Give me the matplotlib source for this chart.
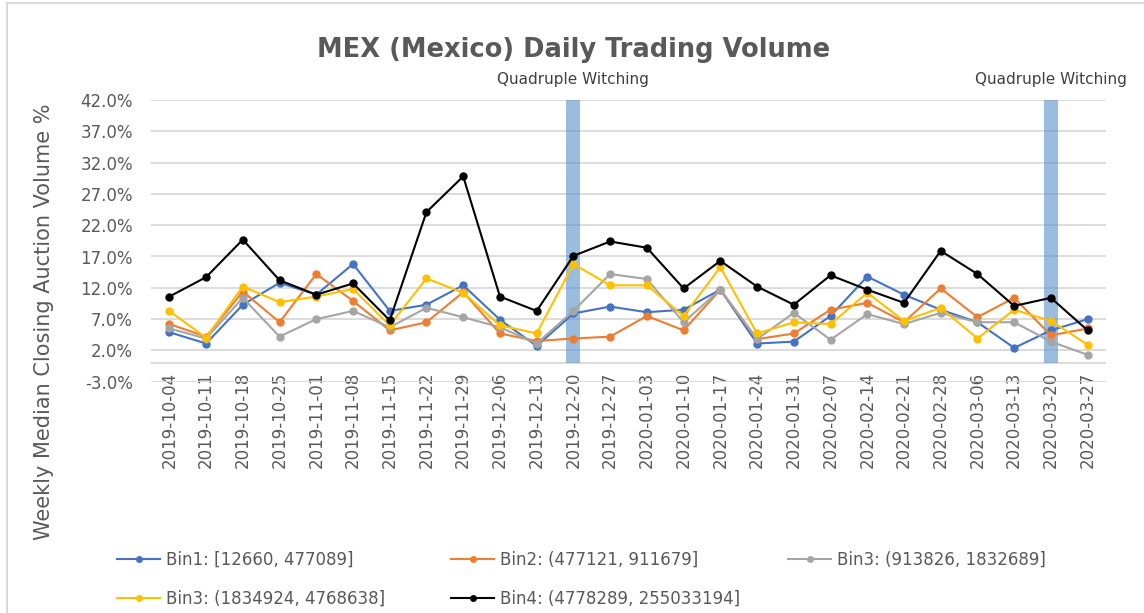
import matplotlib
matplotlib.use("Agg")
import matplotlib.pyplot as plt
from matplotlib.patches import Rectangle

# Dados (mediana semanal, % do volume no leilão de fechamento)
dates = ["2019-10-04", "2019-10-11", "2019-10-18", "2019-10-25", "2019-11-01", "2019-11-08",
         "2019-11-15", "2019-11-22", "2019-11-29", "2019-12-06", "2019-12-13", "2019-12-20",
         "2019-12-27", "2020-01-03", "2020-01-10", "2020-01-17", "2020-01-24", "2020-01-31",
         "2020-02-07", "2020-02-14", "2020-02-21", "2020-02-28", "2020-03-06", "2020-03-13",
         "2020-03-20", "2020-03-27"]

bin1 = [4.9, 3.1, 9.3, 12.8, 10.9, 15.8, 8.3, 9.3, 12.4, 6.9, 2.7, 7.9, 9.0, 8.1, 8.5,
        11.7, 3.1, 3.4, 7.5, 13.8, 10.9, 8.5, 6.5, 2.4, 5.2, 7.0]
bin2 = [6.2, 4.2, 11.4, 6.5, 14.2, 9.9, 5.2, 6.5, 11.3, 4.7, 3.5, 3.9, 4.2, 7.5, 5.2,
        11.7, 3.8, 4.7, 8.5, 9.6, 6.5, 11.9, 7.3, 10.4, 4.4, 5.5]
bin3 = [5.5, 3.9, 10.4, 4.2, 7.0, 8.3, 5.7, 8.8, 7.3, 5.7, 3.1, 8.3, 14.2, 13.4, 6.5,
        11.7, 3.8, 8.0, 3.7, 7.8, 6.2, 8.0, 6.5, 6.5, 3.4, 1.3]
bin3b = [8.3, 4.0, 12.2, 9.7, 10.6, 11.8, 6.0, 13.5, 11.2, 6.0, 4.7, 15.8, 12.4, 12.4, 7.5,
         15.3, 4.7, 6.5, 6.2, 11.2, 6.7, 8.8, 3.9, 8.5, 6.7, 2.9]
bin4 = [10.6, 13.7, 19.7, 13.2, 10.9, 12.7, 6.8, 24.1, 29.8, 10.6, 8.3, 17.1, 19.4, 18.4, 11.9,
        16.3, 12.2, 9.3, 14.0, 11.7, 9.6, 17.9, 14.2, 9.1, 10.4, 5.2]

labels = ["Bin1: [12660, 477089]", "Bin2: (477121, 911679]", "Bin3: (913826, 1832689]",
          "Bin3: (1834924, 4768638]", "Bin4: (4778289, 255033194]"]
colors = ["#4472C4", "#ED7D31", "#A5A5A5", "#FFC000", "#000000"]
series = [bin1, bin2, bin3, bin3b, bin4]

qw_dates = ["2019-12-20", "2020-03-20"]
y_min, y_max = -3, 42

txt = "#595959"
fig = plt.figure(figsize=(11.44, 6.13), dpi=100)
fig.patches.append(Rectangle((7 / 1144, -0.2), 1.2, 1.2 - 3 / 613, transform=fig.transFigure,
                             fill=False, edgecolor="#d9d9d9", linewidth=1.5))
ax = fig.add_axes([151 / 1144, 1 - 381.7 / 613, 955 / 1144, 281.7 / 613])

x = list(range(len(dates)))

# Barras "Quadruple Witching"
qw_x = [dates.index(d) for d in qw_dates]
ax.bar(qw_x, [y_max] * len(qw_x), width=0.38, color="#5b93cc", alpha=0.62, zorder=2)
for xi in qw_x:
    ax.text(xi, y_max + 3.3, "Quadruple Witching", ha="center", va="center",
            fontsize=11, color="#404040")

lines = []
for vals, c, lab in zip(series, colors, labels):
    ln, = ax.plot(x, vals, color=c, lw=1.5, marker="o", markersize=5, label=lab, zorder=3)
    lines.append(ln)

ax.set_xlim(-0.5, len(dates) - 0.5)
ax.set_ylim(y_min, y_max)
ticks = list(range(y_min, y_max + 1, 5))
ax.set_yticks(ticks)
ax.set_yticklabels([f"{t:.1f}%" for t in ticks], fontsize=12, color=txt)
ax.set_xticks(x)
ax.set_xticklabels(dates, rotation=90, fontsize=12, color=txt)
ax.tick_params(axis="both", length=0)
ax.tick_params(axis="y", pad=13)
ax.tick_params(axis="x", pad=-7)
ax.grid(axis="y", color="#d9d9d9", lw=1.3, zorder=0)
ax.set_axisbelow(True)
ax.axhline(0, color="#d9d9d9", lw=1.3, zorder=1)
for s in ax.spines.values():
    s.set_visible(False)

fig.text(574 / 1144, 1 - 50 / 613, "MEX (Mexico) Daily Trading Volume", ha="center", va="center",
         fontsize=18.5, fontweight="bold", color=txt)
fig.text(44 / 1144, 1 - 322 / 613, "Weekly Median Closing Auction Volume %", rotation=90,
         ha="center", va="center", fontsize=15, color=txt)

# Legenda em 3 colunas
cols = [[lines[0], lines[3]], [lines[1], lines[4]], [lines[2]]]
col_x = [117, 451, 788]
for hs, cx in zip(cols, col_x):
    leg = fig.legend(handles=hs, loc="upper left", bbox_to_anchor=(cx / 1144, 1 - 551 / 613),
                     frameon=False, fontsize=12, handlelength=2.6, handletextpad=0.35,
                     borderpad=0, borderaxespad=0, labelspacing=1.25, labelcolor=txt)
    for h in leg.legend_handles:
        h.set_markersize(4)

fig.savefig("out.png", dpi=100)
